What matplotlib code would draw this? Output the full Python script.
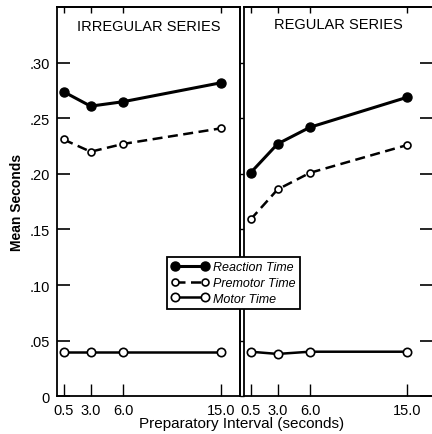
import matplotlib
matplotlib.use("Agg")
import matplotlib.pyplot as plt

# preparatory intervals (seconds)
intervals = [0.5, 3.0, 6.0, 15.0]
tick_labels = ["0.5", "3.0", "6.0", "15.0"]

# irregular series
irr_reaction = [0.274, 0.261, 0.265, 0.282]
irr_premotor = [0.231, 0.220, 0.227, 0.241]
irr_motor = [0.040, 0.040, 0.040, 0.040]

# regular series
reg_reaction = [0.201, 0.227, 0.242, 0.269]
reg_premotor = [0.159, 0.186, 0.201, 0.226]
reg_motor = [0.040, 0.038, 0.040, 0.040]

y_ticks = [0, 0.05, 0.10, 0.15, 0.20, 0.25, 0.30]
y_labels = ["0", ".05", ".10", ".15", ".20", ".25", ".30"]

plt.rcParams['font.family'] = ['Liberation Sans', 'DejaVu Sans']

fig = plt.figure(figsize=(4.32, 4.35), dpi=100)
ax1 = fig.add_axes([0.132, 0.087, 0.424, 0.894])
ax2 = fig.add_axes([0.565, 0.087, 0.435, 0.894])


def draw_panel(ax, rt, pmt, mt):
    h1, = ax.plot(intervals, rt, color="black", lw=2.2, marker="o", ms=6.5,
                  mfc="black", mec="black")
    h2, = ax.plot(intervals, pmt, color="black", lw=1.8, ls=(0, (4, 2.2)),
                  marker="o", ms=5, mfc="white", mec="black", mew=1.2)
    h3, = ax.plot(intervals, mt, color="black", lw=1.8, marker="o", ms=6,
                  mfc="white", mec="black", mew=1.2)
    ax.set_ylim(0, 0.35)
    ax.set_xticks(intervals)
    ax.set_xticklabels(tick_labels, fontsize=10.5)
    ax.tick_params(axis="x", direction="in", length=9, width=1, pad=5)
    # short ticks along the top edge
    top = ax.secondary_xaxis("top")
    top.set_xticks(intervals)
    top.tick_params(direction="in", length=4, width=1, labeltop=False)
    top.spines["top"].set_linewidth(1.3)
    for s in ax.spines.values():
        s.set_linewidth(1.3)
    return h1, h2, h3


handles = draw_panel(ax1, irr_reaction, irr_premotor, irr_motor)
draw_panel(ax2, reg_reaction, reg_premotor, reg_motor)

ax1.set_xlim(-0.1, 16.8)
ax2.set_xlim(-0.1, 17.3)

ax1.set_yticks(y_ticks)
ax1.set_yticklabels(y_labels, fontsize=10.5)
ax1.tick_params(axis="y", direction="in", length=9, width=1.2, pad=5)
ax1.set_ylabel("Mean Seconds", fontsize=10, fontweight="bold", labelpad=4)
rsec = ax1.secondary_yaxis("right")
rsec.set_yticks(y_ticks)
rsec.tick_params(direction="out", length=3, width=1, labelright=False)
rsec.spines["right"].set_linewidth(1.3)

ax2.set_yticks(y_ticks)
ax2.tick_params(axis="y", direction="in", length=9, width=1.2,
                left=False, right=True, labelleft=False)
ax2.spines["right"].set_visible(False)

ax1.text(0.5, 0.953, "IRREGULAR SERIES", transform=ax1.transAxes,
         ha="center", va="center", fontsize=10.5)
ax2.text(0.5, 0.958, "REGULAR SERIES", transform=ax2.transAxes,
         ha="center", va="center", fontsize=10.5)

fig.text(0.56, 0.025, "Preparatory Interval (seconds)", ha="center",
         va="center", fontsize=11)

leg = fig.legend(handles, ["Reaction Time", "Premotor Time", "Motor Time"],
                 loc="upper left", bbox_to_anchor=(0.387, 0.407),
                 prop={"style": "italic", "size": 9}, handlelength=3,
                 numpoints=2, handletextpad=0.3, borderpad=0.35,
                 labelspacing=0.3, borderaxespad=0,
                 fancybox=False, framealpha=1, edgecolor="black")
leg.get_frame().set_linewidth(1.3)

fig.savefig("out.png", dpi=100)
